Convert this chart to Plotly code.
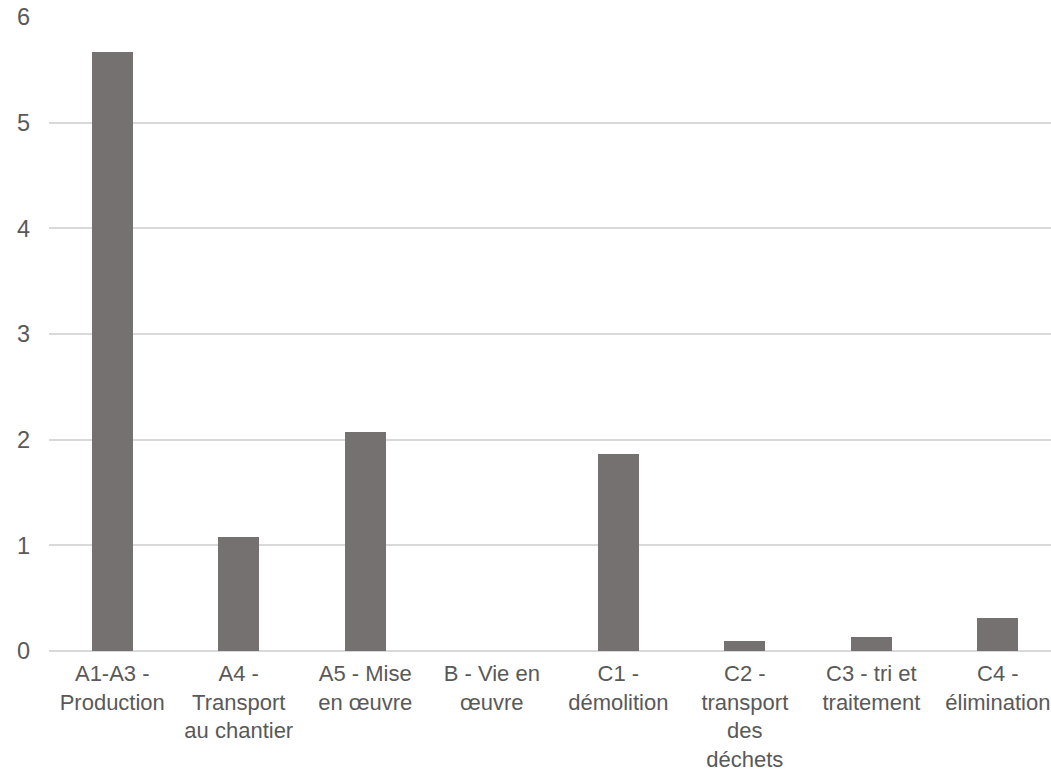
import plotly.graph_objects as go

categories = [
    "A1-A3 -<br>Production",
    "A4 -<br>Transport<br>au chantier",
    "A5 - Mise<br>en œuvre",
    "B - Vie en<br>œuvre",
    "C1 -<br>démolition",
    "C2 -<br>transport<br>des<br>déchets",
    "C3 - tri et<br>traitement",
    "C4 -<br>élimination",
]
values = [5.67, 1.08, 2.07, 0, 1.86, 0.095, 0.13, 0.31]
y_ticks = [0, 1, 2, 3, 4, 5, 6]

fig = go.Figure(go.Bar(
    x=list(range(len(categories))),
    y=values,
    marker=dict(color="#767171", line=dict(width=0)),
    width=0.325,
))

yfont = dict(family="Liberation Sans, Arial, sans-serif", size=23.5, color="#595959")
xfont = dict(family="Liberation Sans, Arial, sans-serif", size=22, color="#595959")

fig.update_layout(
    width=1051, height=774,
    margin=dict(l=49, r=0, t=17, b=123),
    paper_bgcolor="white", plot_bgcolor="white",
    showlegend=False,
    font=yfont,
    bargap=0,
)
fig.update_xaxes(
    tickmode="array",
    tickvals=list(range(len(categories))),
    ticktext=categories,
    range=[-0.5, 7.42],
    showgrid=False,
    showline=False,
    zeroline=False,
    ticks="",
    tickangle=0,
    tickfont=xfont,
    ticklabelstandoff=7,
    ticklabeloverflow="allow",
    automargin=False,
)
fig.update_yaxes(
    range=[0, 6],
    tickvals=y_ticks,
    showgrid=True,
    gridcolor="#d9d9d9",
    gridwidth=1.5,
    zeroline=True,
    zerolinecolor="#d9d9d9",
    zerolinewidth=1.5,
    showline=False,
    ticks="",
    tickfont=yfont,
    ticklabelstandoff=18,
    automargin=False,
)

fig.write_html("out.html")
